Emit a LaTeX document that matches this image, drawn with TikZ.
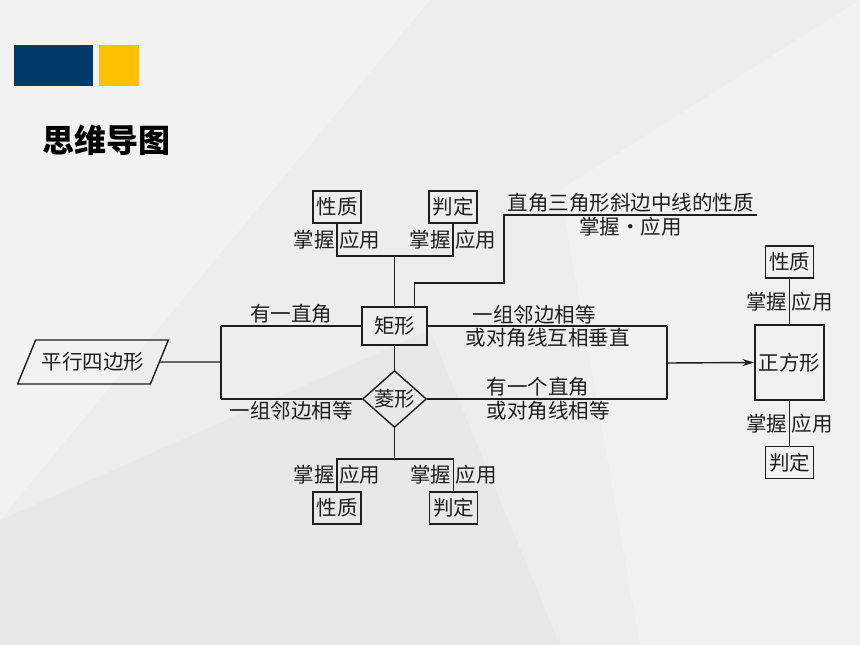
\documentclass[tikz,border=0pt]{standalone}
\usepackage{fontspec}
\newfontfamily\cjk{Noto Sans CJK SC}
\usetikzlibrary{positioning}
\usetikzlibrary{shapes.geometric}
\usetikzlibrary{arrows.meta}
\definecolor{bgcol}{HTML}{EDEDED}
\definecolor{navy}{HTML}{023B6B}
\definecolor{gold}{HTML}{FFC000}
\definecolor{ink}{HTML}{1E1E1E}
\tikzset{lbl/.style={inner sep=1.5pt,font=\cjk\fontsize{20.5}{24}\selectfont,text=ink}}
\tikzset{box/.style={lbl,draw=ink,line width=1.4pt,minimum width=48pt,minimum height=32pt}}
\tikzset{link/.style={draw=ink,line width=1.4pt}}

\begin{document}
\begin{tikzpicture}[on grid,x=1pt,y=-1pt]
        \useasboundingbox (0,0) rectangle (860,645);
        \fill[bgcol] (0,0) rectangle (860,645);
        \fill[white,opacity=.3] (0,0) -- (430,0) -- (0,520) -- cycle;
        \fill[white,opacity=.25] (560,190) -- (860,0) -- (860,645) -- (640,645) -- cycle;
        \fill[black,opacity=.02] (0,520) -- (430,330) -- (560,645) -- (0,645) -- cycle;
        \fill[navy] (14,45) rectangle (93,86);
        \fill[gold] (99,45) rectangle (139,86);
        \node[font=\cjk\bfseries\fontsize{32}{36}\selectfont] (head) at (106,140) {思维导图};

        \node[lbl, draw=ink, line width=1.4pt, trapezium, trapezium left angle=53, trapezium right angle=127,
              trapezium stretches=true, minimum width=151pt, minimum height=44pt] (pxsbx) at (93,362) {平行四边形};
        \node[box, minimum width=65pt, minimum height=38pt] (jx) at (394.5,326) {矩形};
        \node[lbl, draw=ink, line width=1.4pt, diamond, aspect=1.08, minimum width=64pt, inner sep=0pt, below=73pt of jx] (lx) {菱形};
        \node[box, minimum width=69pt, minimum height=75pt] (zfx) at (789.5,362.5) {正方形};

        \node[box, above left=119pt and 57.5pt of jx] (xz1) {性质};
        \node[box, above right=119pt and 58.5pt of jx] (pd1) {判定};
        \node[box, below left=109pt and 57.5pt of lx] (xz2) {性质};
        \node[box, below right=109pt and 59pt of lx] (pd2) {判定};
        \node[box, above=100.5pt of zfx] (xz3) {性质};
        \node[box, below=100pt of zfx] (pd3) {判定};

        \coordinate (fork) at (221,362);
        \coordinate (join) at (667,363);
        \coordinate (tfork) at (395,256);
        \coordinate (bfork) at (395,459);
        \coordinate (hk1) at (504,283);
        \coordinate (hk2) at (504,215);
        \coordinate (hk3) at (757,215);

        \draw[link] (pxsbx) -- (fork);
        \draw[link] (fork |- jx) -- (fork |- lx);
        \draw[link] (fork |- jx) -- node[lbl,above] {有一直角} (jx);
        \draw[link] (fork |- lx) -- node[lbl,below] {一组邻边相等} (lx);

        \draw[link] (jx) -- (lx);
        \draw[link] (jx) -- node[lbl,above right,pos=.18] {一组邻边相等}
                node[lbl,below right,pos=.15] {或对角线互相垂直} (join |- jx);
        \draw[link] (lx) -- node[lbl,above right,pos=.24] {有一个直角}
                node[lbl,below right,pos=.24] {或对角线相等} (join |- lx);
        \draw[link] (join |- jx) -- (join |- lx);
        \draw[link,-{Stealth[length=12pt,width=7pt]}] (join) -- (zfx.west);

        \draw[link] (jx) -- (jx |- tfork);
        \draw[link] (xz1) -- node[lbl,left] {掌握} node[lbl,right] {应用} (xz1 |- tfork)
         -- (pd1 |- tfork) -- node[lbl,left] {掌握} node[lbl,right] {应用} (pd1);
        \draw[link] ([xshift=20pt]jx.north) |- (hk1) -- (hk2)
         -- node[lbl,above] {直角三角形斜边中线的性质}
            node[lbl,below] {掌握·应用} (hk3);

        \draw[link] (lx) -- (lx |- bfork);
        \draw[link] (xz2) -- node[lbl,left] {掌握} node[lbl,right] {应用} (xz2 |- bfork)
         -- (pd2 |- bfork) -- node[lbl,left] {掌握} node[lbl,right] {应用} (pd2);

        \draw[link] (xz3) -- node[lbl,left] {掌握} node[lbl,right] {应用} (zfx);
        \draw[link] (zfx) -- node[lbl,left] {掌握} node[lbl,right] {应用} (pd3);
\end{tikzpicture}
\end{document}
